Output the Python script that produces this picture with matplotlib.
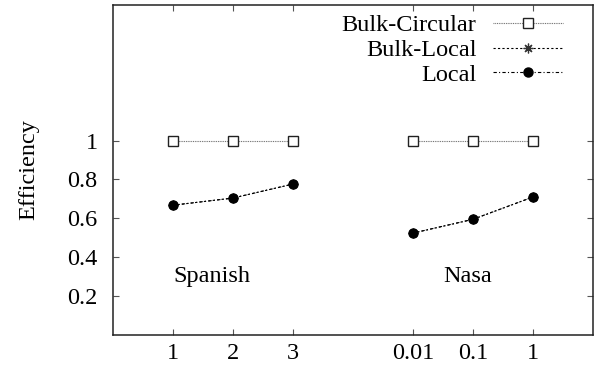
import matplotlib
matplotlib.use("Agg")
import matplotlib.pyplot as plt

series_names = ["Bulk-Circular", "Bulk-Local", "Local"]
x_spanish = [1, 2, 3]
x_nasa = [5, 6, 7]
tick_labels = ["1", "2", "3", "0.01", "0.1", "1"]

bulk_circular_spanish = [1.0, 1.0, 1.0]
bulk_circular_nasa = [1.0, 1.0, 1.0]
bulk_local_spanish = [0.667, 0.704, 0.776]
bulk_local_nasa = [0.523, 0.594, 0.709]
local_spanish = [0.667, 0.704, 0.776]
local_nasa = [0.523, 0.594, 0.709]

plt.rcParams['font.family'] = ['Liberation Serif', 'DejaVu Serif']
FS = 17.5

fig = plt.figure(figsize=(6, 3.75), dpi=100)
ax = fig.add_axes([113/600, 1-334.5/375, (592.7-113)/600, (334.5-5)/375])

styles = [
    dict(color='#666666', linestyle=(0, (0.8, 0.8)), linewidth=0.8, marker='s', markersize=6.5,
         markerfacecolor='white', markeredgecolor='#222222', markeredgewidth=1.0),
    dict(color='black', linestyle=(0, (2, 2)), linewidth=0.8, marker=(8, 2, 0), markersize=7,
         markeredgecolor='#333333', markeredgewidth=0.9),
    dict(color='black', linestyle=(0, (3, 2, 1, 2)), linewidth=0.8, marker='o', markersize=6.5,
         markerfacecolor='black', markeredgecolor='black'),
]
data = [
    (bulk_circular_spanish, bulk_circular_nasa),
    (bulk_local_spanish, bulk_local_nasa),
    (local_spanish, local_nasa),
]
handles = []
for name, (sp, na), st in zip(series_names, data, styles):
    h, = ax.plot(x_spanish, sp, label=name, **st)
    ax.plot(x_nasa, na, **st)
    handles.append(h)

ax.set_xlim(0, 8)
ax.set_ylim(0, 1.7)
ax.set_xticks(x_spanish + x_nasa)
ax.set_xticklabels(tick_labels, fontsize=FS)
ax.set_yticks([0.2, 0.4, 0.6, 0.8, 1.0])
ax.set_yticklabels(["0.2", "0.4", "0.6", "0.8", "1"], fontsize=FS)
ax.tick_params(direction='in', top=True, right=True, length=4.5, width=0.8,
               color='#555555')
ax.tick_params(axis='y', pad=11)
ax.tick_params(axis='x', pad=6)
for s in ax.spines.values():
    s.set_linewidth(1.1)
    s.set_color('#222222')
ax.set_ylabel("Efficiency", fontsize=FS)
ax.yaxis.set_label_coords((39 - 113) / 479.7, 0.5)

ax.text(1, 0.3, "Spanish", fontsize=FS, ha='left', va='center')
ax.text(5.5, 0.3, "Nasa", fontsize=FS, ha='left', va='center')

leg = ax.legend(handles=handles, loc='upper right', frameon=False, fontsize=FS,
                markerfirst=False, handlelength=2.85, handletextpad=0.7,
                labelspacing=0.12, borderpad=0.4, borderaxespad=0.0,
                bbox_to_anchor=((562.7 + 9.7 - 113) / 479.7, 1.002))
fig.savefig("out.png", dpi=100)
